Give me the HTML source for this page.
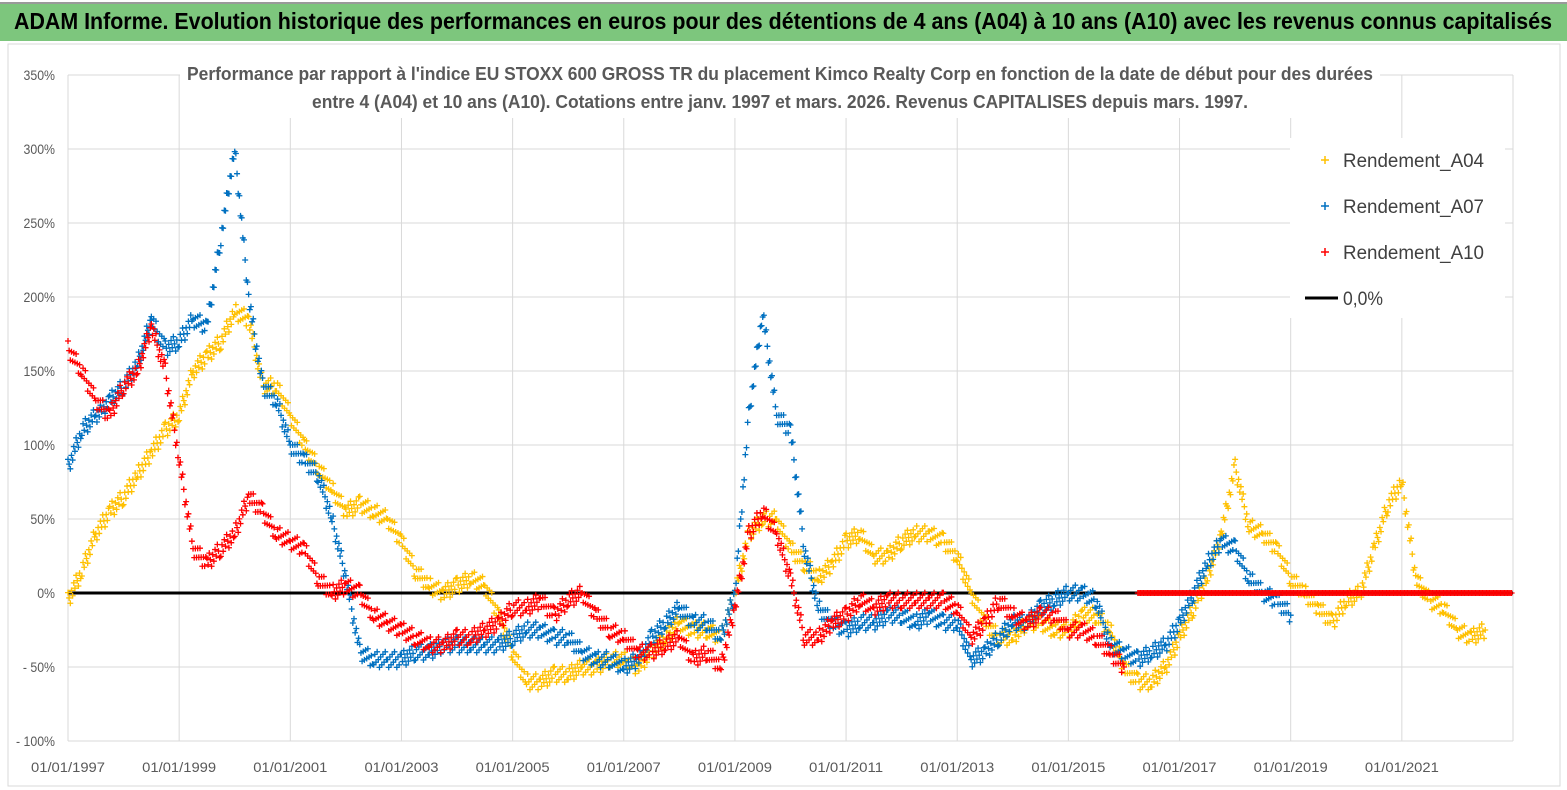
<!DOCTYPE html>
<html><head><meta charset="utf-8">
<style>
body{margin:0;width:1567px;height:790px;background:#fff;overflow:hidden;font-family:"Liberation Sans",sans-serif}
svg{position:absolute;left:0;top:0}
</style></head><body>
<svg id="chart" width="1567" height="790">
<rect x="0" y="2" width="1567" height="39" fill="#7dc67d"/>
<line x1="0" y1="3" x2="1567" y2="3" stroke="#9a9a9a" stroke-width="2"/>
<text x="783" y="29" text-anchor="middle" font-size="23" font-weight="bold" fill="#000" textLength="1538" lengthAdjust="spacingAndGlyphs">ADAM Informe. Evolution historique des performances en euros pour des détentions de 4 ans (A04) à 10 ans (A10) avec les revenus connus capitalisés</text>
</svg>
<script>
const yTicks=[350,300,250,200,150,100,50,0,-50,-100];
const xTickYears=[1997,1999,2001,2003,2005,2007,2009,2011,2013,2015,2017,2019,2021];
const startA04=1997, startA07=1997, startA10=1997;
const a04=[-5,15,40,55,65,80,95,110,120,150,160,170,190,185,140,140,120,100,85,70,55,60,55,50,35,15,5,0,5,10,5,-15,-40,-60,-60,-55,-55,-50,-50,-45,-45,-50,-40,-30,-20,-25,-25,-30,0,40,50,50,30,20,10,20,35,40,25,25,35,40,40,35,25,0,-20,-30,-30,-20,-20,-25,-25,-15,-15,-25,-50,-60,-60,-50,-30,-10,10,40,85,45,40,30,10,0,-10,-20,-5,0,30,60,75,10,-5,-10,-25,-30,-25];
const a07=[85,110,120,130,140,155,185,165,170,185,180,240,300,200,140,130,100,90,80,50,10,-40,-45,-45,-45,-40,-40,-35,-35,-35,-35,-35,-30,-25,-25,-30,-30,-40,-45,-45,-50,-45,-30,-20,-10,-20,-20,-30,0,120,190,120,110,30,-10,-20,-25,-20,-20,-15,-15,-20,-15,-20,-20,-45,-40,-30,-20,-20,-10,-5,0,0,-5,-35,-40,-45,-40,-35,-20,0,20,35,30,10,0,-5,-15];
const a10=[165,150,130,120,140,150,180,150,90,30,20,30,40,65,55,40,35,30,10,0,5,0,-15,-20,-25,-30,-35,-35,-30,-30,-25,-20,-10,-10,-5,-15,-5,0,-15,-25,-30,-40,-40,-35,-30,-45,-40,-50,-10,40,55,40,10,-30,-30,-20,-15,-5,-10,-5,-5,-5,-5,-5,-10,-30,-20,-5,-15,-20,-15,-15,-25,-25,-30,-40,-50];
const a10flatStart=2016.25, a10flatEnd=2023, a10flatValue=0;
const legendLabels=["Rendement_A04","Rendement_A07","Rendement_A10","0,0%"];

const NS="http://www.w3.org/2000/svg";
const svg=document.getElementById('chart');
const X0=68,X1=1513,Y0=741,Y1=75;
const xs=yr=>X0+(yr-1997)*(X1-X0)/26;
const ys=v=>Y0-(v+100)*(Y0-Y1)/450;
function mk(tag,attrs,parent){const e=document.createElementNS(NS,tag);for(const k in attrs)e.setAttribute(k,attrs[k]);(parent||svg).appendChild(e);return e;}

const frame=mk('rect',{x:8,y:44,width:1552,height:742,fill:'none',stroke:'#d9d9d9'});


yTicks.forEach(v=>{
  const l=mk('line',{x1:X0,x2:X1,y1:ys(v),y2:ys(v),stroke:'#d9d9d9'});
  
  
  const t=mk('text',{x:55,y:ys(v)+5,'text-anchor':'end','font-size':14,fill:'#595959',transform:`translate(55,0) scale(0.88,1) translate(-55,0)`});
  t.textContent=(v<0?'- '+(-v):v)+'%';
  
  
});
xTickYears.forEach(yr=>{
  const l=mk('line',{x1:xs(yr),x2:xs(yr),y1:Y1,y2:Y0,stroke:'#d9d9d9'});
  
  
  const t=mk('text',{x:xs(yr),y:772,'text-anchor':'middle','font-size':14,fill:'#595959',textLength:74,lengthAdjust:'spacingAndGlyphs'});
  t.textContent='01/01/'+yr;
  
  
});
mk('line',{x1:X1,x2:X1,y1:Y1,y2:Y0,stroke:'#d9d9d9'});
mk('rect',{x:180,y:58,width:1200,height:60,fill:'#fff'});
[["Performance par rapport à l'indice EU STOXX 600 GROSS TR  du placement Kimco Realty Corp en fonction de la date de début pour des durées",80,1186],
 ["entre 4 (A04) et 10 ans (A10). Cotations entre janv. 1997 et mars. 2026. Revenus CAPITALISES depuis mars. 1997.",108,936]].forEach(([s,y,w])=>{
  const t=mk('text',{x:780,y:y,'text-anchor':'middle','font-size':18,'font-weight':'bold',fill:'#595959',textLength:w,lengthAdjust:'spacingAndGlyphs'});
  t.textContent=s;
  
  
});
function series(vals,start,color,name,flat){
  let d='';const n=12;
  const add=(x,y)=>{d+=`M${x-3},${y}h6M${x},${y-3}v6`;};
  for(let i=0;i<vals.length-1;i++){
    for(let k=0;k<n;k++){
      const f=k/n;const yr=start+(i+f)*0.25;
      const v=vals[i]+(vals[i+1]-vals[i])*f;
      const off=(((k*3+i*5)%7)-3)*2.6;
      add(xs(yr),ys(v)+off);
    }
  }
  add(xs(start+(vals.length-1)*0.25),ys(vals[vals.length-1]));
  if(flat){for(let yr=flat[0];yr<=flat[1];yr+=0.025)add(xs(yr),ys(flat[2]));}
  const p=mk('path',{d:d,stroke:color,'stroke-width':1.3,fill:'none'});
  
  
}
const zl=mk('line',{x1:X0,x2:X1,y1:ys(0),y2:ys(0),stroke:'#000','stroke-width':3});


series(a04,startA04,'#ffc000','series-a04');
series(a07,startA07,'#0070c0','series-a07');
series(a10,startA10,'#ff0000','series-a10',[a10flatStart,a10flatEnd,a10flatValue]);
const lg=mk('rect',{x:1290,y:138,width:215,height:180,fill:'#fff'});


const lc=['#ffc000','#0070c0','#ff0000','#000'];
legendLabels.forEach((s,i)=>{
  const y=160+i*46;
  if(i<3){mk('path',{d:`M1321,${y}h8M1325,${y-4}v8`,stroke:lc[i],'stroke-width':1.5});}
  else{mk('line',{x1:1305,x2:1338,y1:y,y2:y,stroke:'#000','stroke-width':3});}
  const t=mk('text',{x:1343,y:y+7,'font-size':19,fill:'#404040',textLength:s.length>5?141:40,lengthAdjust:'spacingAndGlyphs'});
  t.textContent=s;
  
  
});
</script>
</body></html>
